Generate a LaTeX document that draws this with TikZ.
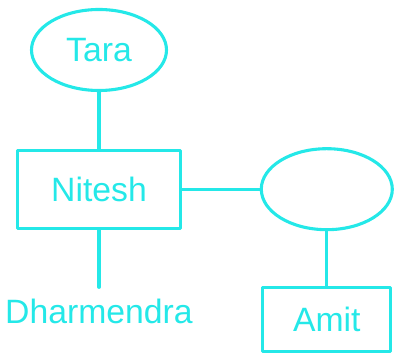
\documentclass[tikz,border=0pt]{standalone}
\usepackage{fontspec}
\setmainfont{Liberation Sans}
\usepackage{tikz}
\usetikzlibrary{shapes.geometric,positioning}
\definecolor{famcyan}{RGB}{36,232,232}
\tikzset{
    person/.style={draw=famcyan,line width=2.2pt,text=famcyan,font=\fontsize{24}{29}\selectfont},
    oval/.style={person,ellipse,inner sep=0pt},
    box/.style={person,rectangle,inner sep=0pt},
}

\begin{document}
\begin{tikzpicture}[line cap=round,line join=round]

        \useasboundingbox (0,0) rectangle (9.875,8.9);

        % --- Nodes ---
        \node[oval,minimum width=3.375cm,minimum height=2.025cm] (tara) at (2.475,7.65) {Tara};
        \node[box,minimum width=4.075cm,minimum height=1.95cm] (nitesh) at (2.475,4.17) {Nitesh};
        \node[oval,minimum width=3.275cm,minimum height=2.025cm] (spouse) at (8.17,4.17) {};
        \node[box,minimum width=3.2cm,minimum height=1.6cm] (amit) at (8.17,0.9125) {Amit};

        % label below Nitesh
        \node[text=famcyan,font=\fontsize{24}{29}\selectfont,inner xsep=0pt,inner ysep=0.28cm] (dharmendra) at (2.475,1.12) {Dharmendra};

        % --- Links ---
        \draw[famcyan,line width=2.2pt] (tara) -- (nitesh);
        \draw[famcyan,line width=2.2pt] (nitesh.south) -- (dharmendra.north);
        \draw[famcyan,line width=2.2pt] (nitesh) -- (spouse);
        \draw[famcyan,line width=2.2pt] (spouse) -- (amit);

    \end{tikzpicture}
\end{document}
